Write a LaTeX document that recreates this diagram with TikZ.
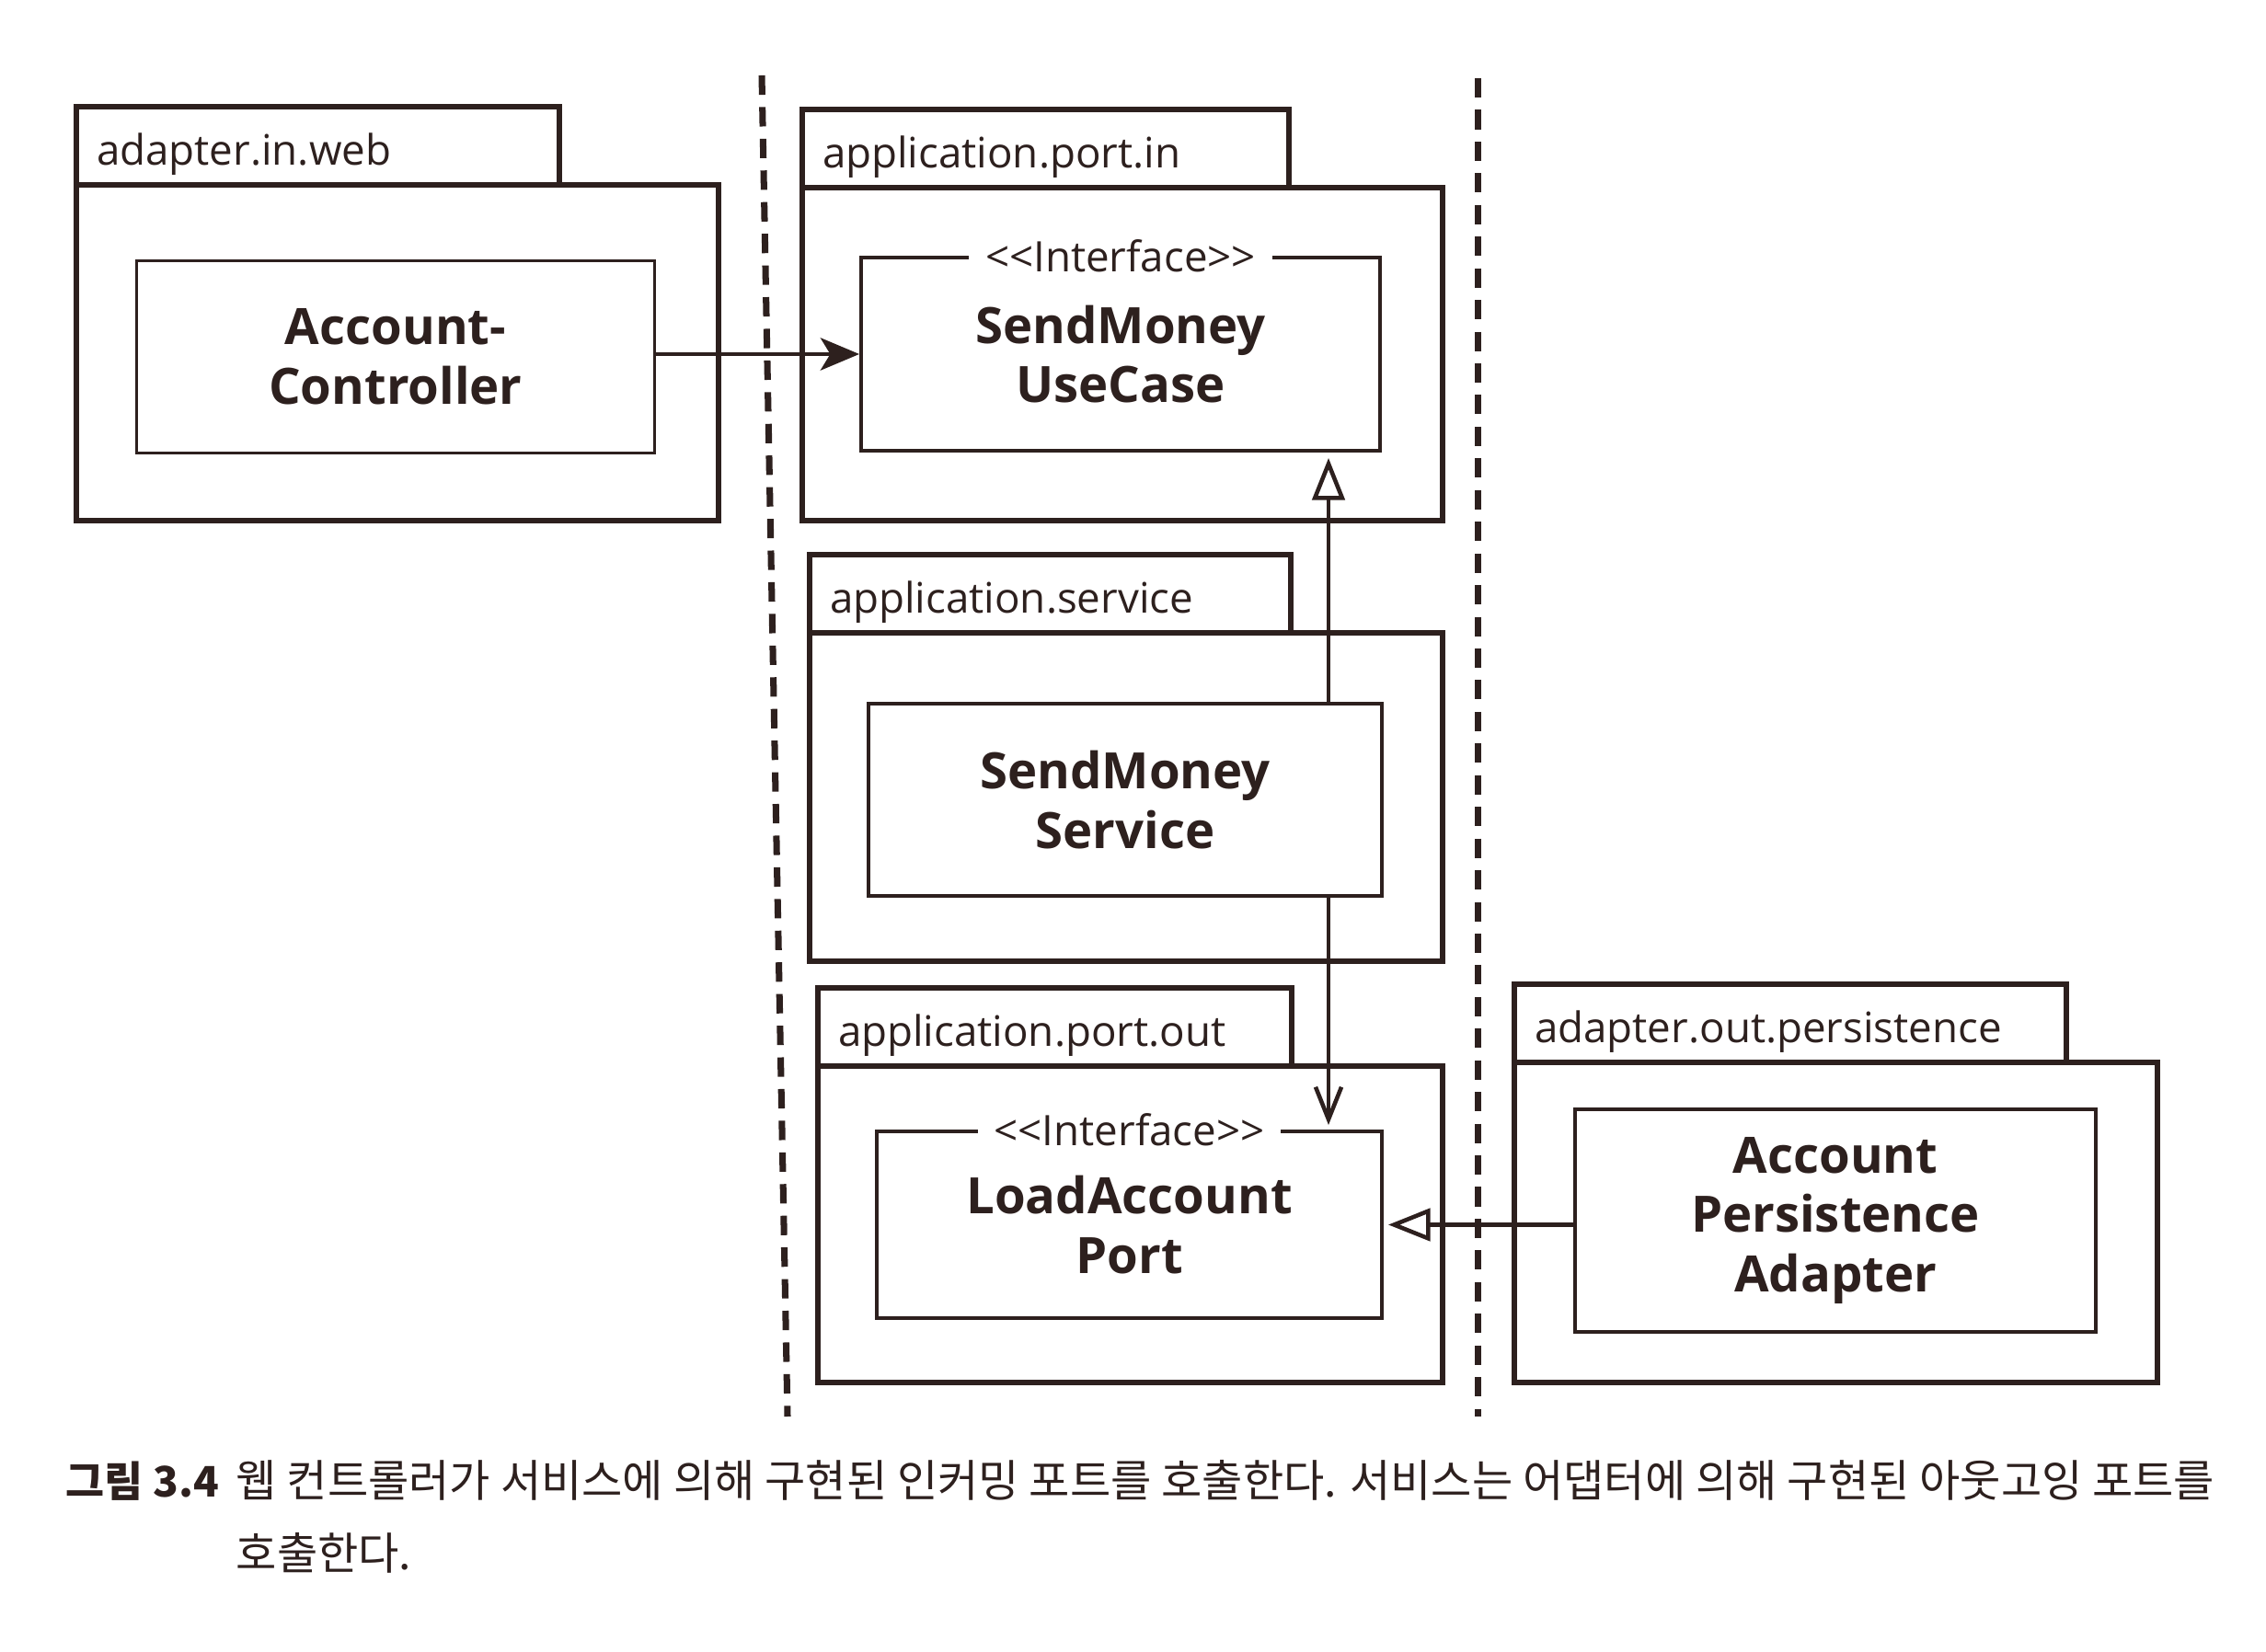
\documentclass[tikz,border=0pt]{standalone}
\usepackage{fontspec}
\setmainfont{Open Sans}
\newfontfamily\krfont{Noto Sans CJK KR}
\usetikzlibrary{arrows.meta,calc}
\definecolor{ink}{RGB}{45,32,30}
\tikzset{
  pkgbody/.style={draw=ink, line width=1.7pt, outer sep=0pt},
  pkgtab/.style={draw=ink, line width=1.6pt, outer sep=0pt, anchor=south west,
    minimum height=0.85cm, inner xsep=0.22cm, inner ysep=0pt, align=left, text=ink,
    text height=1.45em, text depth=0.24em, font=\fontsize{13}{15}\selectfont},
  cls/.style={draw=ink, line width=1.1pt, fill=white, align=center, text=ink,
    font=\bfseries\fontsize{15.5}{18.4}\selectfont},
  stereo/.style={anchor=center, fill=white, inner xsep=5pt, inner ysep=1pt,
    text=ink, font=\fontsize{13}{15}\selectfont},
  sepline/.style={draw=ink, line width=2pt, dash pattern=on 6pt off 3.8pt},
  callarrow/.style={draw=ink, line width=1.4pt, -{Stealth[length=12pt,width=10pt,inset=3pt]}},
  reqarrow/.style={draw=ink, line width=1.3pt, -{Straight Barb[length=10pt,width=8pt]}},
  implarrow/.style={draw=ink, line width=1.3pt, -{Triangle[open,length=13pt,width=10pt,fill=white]}},
  capline/.style={anchor=base west, inner sep=0pt, text=ink,
    font=\krfont\fontsize{13.7}{16}\selectfont}
}
\newcommand{\stereotxt}{\textless\kern0pt\textless Interface\textgreater\kern0pt\textgreater}

\begin{document}
\begin{tikzpicture}
  \fill[white] (0,0) rectangle (24.63,17.96);
  \useasboundingbox (0,0) rectangle (24.63,17.96);

  %layer borders
  \draw[sepline] (8.28,17.14) coordinate (sepltop) -- (8.56,2.56) coordinate (seplbot);
  \draw[sepline] (16.06,17.11) coordinate (seprtop) -- (16.06,2.56) coordinate (seprbot);

  %PACKAGES
  \node[pkgbody, minimum width=6.98cm, minimum height=3.65cm] (web) at (4.32,14.125) {};
  \node[pkgtab, text width=4.81cm] (webtab) at (web.north west) {adapter.in.web};

  \node[pkgbody, minimum width=6.96cm, minimum height=3.62cm] (portin) at (12.20,14.11) {};
  \node[pkgtab, text width=4.85cm] (portintab) at (portin.north west) {application.port.in};

  \node[pkgbody, minimum width=6.88cm, minimum height=3.57cm] (service) at (12.24,9.295) {};
  \node[pkgtab, text width=4.79cm] (servicetab) at (service.north west) {application.service};

  \node[pkgbody, minimum width=6.79cm, minimum height=3.44cm] (portout) at (12.285,4.65) {};
  \node[pkgtab, text width=4.71cm] (portouttab) at (portout.north west) {application.port.out};

  \node[pkgbody, minimum width=6.99cm, minimum height=3.48cm] (persist) at (19.955,4.67) {};
  \node[pkgtab, text width=5.56cm] (persisttab) at (persist.north west) {adapter.out.persistence};

  %CLASSES
  \node[cls, minimum width=5.63cm, minimum height=2.09cm] (controller) at (4.30,14.08) {Account-\\Controller};
  \node[cls, minimum width=5.64cm, minimum height=2.10cm,
    label={[stereo]north:{\stereotxt}}] (usecase) at (12.18,14.11) {SendMoney\\UseCase};
  \node[cls, minimum width=5.58cm, minimum height=2.09cm] (svc) at (12.23,9.265) {SendMoney\\Service};
  \node[cls, minimum width=5.49cm, minimum height=2.03cm,
    label={[stereo]north:{\stereotxt}}] (loadport) at (12.275,4.645) {LoadAccount\\Port};
  \node[cls, minimum width=5.66cm, minimum height=2.42cm] (adapter) at (19.95,4.69) {Account\\Persistence\\Adapter};

  %ARROWS
  \coordinate (implx) at (14.44,0);
  \draw[callarrow] (controller.east |- usecase.west) -- (usecase.west);
  \draw[implarrow, shorten >=0.06cm] (svc.north -| implx) -- (usecase.south -| implx);
  \draw[reqarrow, shorten >=0.05cm] (svc.south -| implx) -- (loadport.north -| implx);
  \draw[implarrow, shorten >=0.05cm] (adapter.west |- loadport.east) -- (loadport.east);

  %CAPTION
  \node[capline, font=\krfont\bfseries\fontsize{13}{16}\selectfont] (fignum) at (0.71,1.68) {그림 3.4};
  \node[capline] (capa) at (2.56,1.68) {웹 컨트롤러가 서비스에 의해 구현된 인커밍 포트를 호출한다. 서비스는 어댑터에 의해 구현된 아웃고잉 포트를};
  \node[capline] (capb) at (2.56,0.89) {호출한다.};
\end{tikzpicture}
\end{document}
